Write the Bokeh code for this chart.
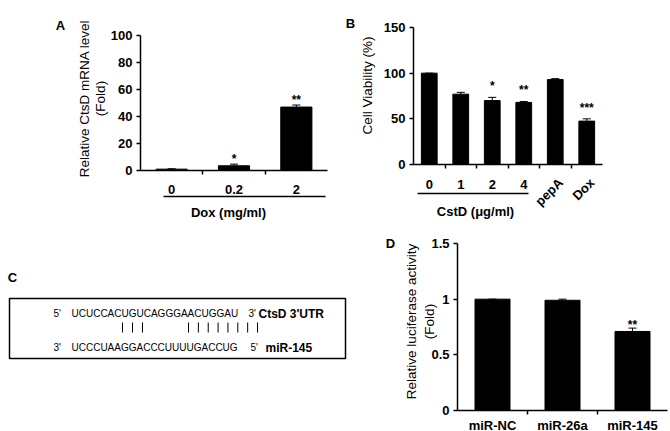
import numpy as np
from bokeh.plotting import figure
from bokeh.models import Range1d, FixedTicker, Whisker, TeeHead, ColumnDataSource
from bokeh.layouts import row, column
from bokeh.embed import file_html
from bokeh.resources import INLINE
from bokeh.core.properties import value

# ---------------- data ----------------
# Panel A
a_cats = ["0", "0.2", "2"]
a_vals = [1.0, 3.5, 47.0]
a_errs = [0.3, 1.2, 1.5]
a_sig = ["", "*", "**"]
a_yticks = [0, 20, 40, 60, 80, 100]
a_ymax = 100
a_ylabel = ["Relative CtsD mRNA level", "(Fold)"]
a_group = "Dox (mg/ml)"

# Panel B
b_cats = ["0", "1", "2", "4", "pepA", "Dox"]
b_vals = [100.0, 77.0, 70.0, 68.0, 93.0, 47.5]
b_errs = [0.0, 2.0, 3.5, 1.0, 1.0, 2.5]
b_sig = ["", "", "*", "**", "", "***"]
b_yticks = [0, 50, 100, 150]
b_ymax = 150
b_ylabel = ["Cell Viability (%)"]
b_group = "CstD (\u03bcg/ml)"
b_rotated = ["pepA", "Dox"]

# Panel C
c_utr = "UCUCCACUGUCAGGGAACUGGAU"
c_mir = "UCCCUAAGGACCCUUUUGACCUG"
c_utr_name = "CtsD 3'UTR"
c_mir_name = "miR-145"

# Panel D
d_cats = ["miR-NC", "miR-26a", "miR-145"]
d_vals = [1.0, 0.99, 0.71]
d_errs = [0.0, 0.01, 0.03]
d_sig = ["", "", "**"]
d_yticks = [0, 0.5, 1, 1.5]
d_ymax = 1.5
d_ylabel = ["Relative luciferase activity", "(Fold)"]

FONT = "Liberation Sans"
TOP_H = 223
BOT_H = 431 - TOP_H


def make_panel(cats, vals, errs, sig, yticks, ymax, W, H, ox, oy, ux, uy,
               star_offset, hide=(), xlabel_standoff=10):
    """Frame covers the whole figure; axes are pinned at the data origin."""
    n = len(cats)
    xr = Range1d(-ox / ux, (W - ox) / ux)
    yr = Range1d(-(H - oy) / uy, oy / uy)
    p = figure(width=W, height=H, x_range=xr, y_range=yr, min_border=0,
               output_backend="svg", toolbar_location=None)
    p.outline_line_color = None
    p.grid.visible = False
    p.background_fill_color = "white"
    p.border_fill_color = "white"

    xs = np.arange(n) + 0.5
    ups = np.array(vals) + np.array(errs)
    src = ColumnDataSource(dict(x=xs, top=vals, up=ups, sig=sig))
    p.vbar(x="x", top="top", bottom=0, width=0.5, fill_color="black",
           line_color="black", source=src)
    p.add_layout(Whisker(base="x", lower="top", upper="up", source=src,
                         lower_head=None,
                         upper_head=TeeHead(size=8, line_color="black", line_width=1),
                         line_color="black", line_width=1))
    p.text(x="x", y="up", text="sig", source=src, text_align="center",
           text_baseline="alphabetic", y_offset=star_offset,
           text_font=value(FONT), text_font_style="bold",
           text_font_size="12px", text_color="black")

    ya = p.yaxis[0]
    ya.fixed_location = 0
    ya.bounds = (0, ymax)
    ya.ticker = FixedTicker(ticks=yticks)
    ya.major_tick_out = 4
    ya.major_tick_in = 0
    ya.minor_tick_out = 0
    ya.minor_tick_in = 0
    ya.axis_line_width = 1.5
    ya.axis_line_color = "black"
    ya.major_tick_line_width = 1.5
    ya.major_tick_line_color = "black"
    ya.major_label_text_font = FONT
    ya.major_label_text_font_style = "bold"
    ya.major_label_text_font_size = "13px"
    ya.major_label_text_color = "black"
    ya.major_label_standoff = 4

    xa = p.xaxis[0]
    xa.fixed_location = 0
    xa.bounds = (0, n)
    xa.ticker = FixedTicker(ticks=[float(v) for v in xs],
                            minor_ticks=[float(v) for v in range(1, n)])
    xa.major_label_overrides = {float(x): ("" if c in hide else c)
                                for x, c in zip(xs, cats)}
    xa.major_tick_out = 0
    xa.major_tick_in = 0
    xa.minor_tick_out = 4
    xa.minor_tick_in = 0
    xa.minor_tick_line_width = 1.5
    xa.minor_tick_line_color = "black"
    xa.axis_line_width = 1.5
    xa.axis_line_color = "black"
    xa.major_label_text_font = FONT
    xa.major_label_text_font_style = "bold"
    xa.major_label_text_font_size = "13px"
    xa.major_label_text_color = "black"
    xa.major_label_standoff = xlabel_standoff

    def X(px):
        return (px - ox) / ux

    def Y(py):
        return (oy - py) / uy

    return p, X, Y


def put_text(p, text, x, y, size="13px", bold=False, angle=0.0,
             align="center", baseline="middle"):
    p.text(x=[x], y=[y], text=[text], angle=angle, text_align=align,
           text_baseline=baseline, text_font=value(FONT),
           text_font_size=size, text_font_style="bold" if bold else "normal",
           text_color="black")


def ylabel_lines(p, X, Y, lines, xs_px, y_px):
    for line, xp in zip(lines, xs_px):
        put_text(p, line, X(xp), Y(y_px), size="13.5px", angle=np.pi / 2)


# ---------------- panel A ----------------
pa, AX, AY = make_panel(a_cats, a_vals, a_errs, a_sig, a_yticks, a_ymax,
                        W=340, H=TOP_H, ox=140, oy=170, ux=187 / 3,
                        uy=135 / a_ymax, star_offset=-5, xlabel_standoff=10)
put_text(pa, "A", AX(60), AY(25), bold=True)
ylabel_lines(pa, AX, AY, a_ylabel, [84, 100], 98)
pa.segment(x0=[AX(163)], y0=[AY(196)], x1=[AX(325)], y1=[AY(196)],
           line_color="black", line_width=1.5)
put_text(pa, a_group, AX(228), AY(212), bold=True)

# ---------------- panel B ----------------
pb, BX, BY = make_panel(b_cats, b_vals, b_errs, b_sig, b_yticks, b_ymax,
                        W=330, H=TOP_H, ox=73, oy=164, ux=31.5,
                        uy=137 / b_ymax, star_offset=-11, hide=b_rotated,
                        xlabel_standoff=11)
put_text(pb, "B", BX(350 - 340), BY(23), bold=True)
ylabel_lines(pb, BX, BY, b_ylabel, [367 - 340], 85)
for i, c in enumerate(b_cats):
    if c in b_rotated:
        put_text(pb, c, i + 0.67, BY(180), bold=True, angle=np.pi / 4,
                 align="right")
pb.segment(x0=[BX(417 - 340)], y0=[BY(193)], x1=[BX(528 - 340)], y1=[BY(193)],
           line_color="black", line_width=1.5)
put_text(pb, b_group, BX(475 - 340), BY(211), bold=True)

# ---------------- panel C ----------------
pc = figure(width=380, height=BOT_H, x_range=Range1d(0, 380),
            y_range=Range1d(BOT_H, 0), output_backend="svg",
            toolbar_location=None, min_border=0)
pc.axis.visible = False
pc.grid.visible = False
pc.outline_line_color = None
pc.quad(left=9, right=345, top=75, bottom=135, fill_color=None,
        line_color="black", line_width=1.5)
for t, x, y in [("5'", 53, 90), (c_utr, 71, 90), ("3'", 248, 90),
                ("3'", 53, 124), (c_mir, 71, 124), ("5'", 250, 124)]:
    put_text(pc, t, x, y, size="10px", align="left")
put_text(pc, c_utr_name, 258, 90, size="12px", bold=True, align="left")
put_text(pc, c_mir_name, 265, 124, size="12px", bold=True, align="left")
pair_x = list(122 + 10 * np.arange(3)) + list(188 + 9.86 * np.arange(8))
pc.segment(x0=pair_x, y0=[99] * len(pair_x), x1=pair_x, y1=[109] * len(pair_x),
           line_color="black", line_width=1)
put_text(pc, "C", 12, 54, bold=True)

# ---------------- panel D ----------------
pd_, DX, DY = make_panel(d_cats, d_vals, d_errs, d_sig, d_yticks, d_ymax,
                         W=290, H=BOT_H, ox=77, oy=187, ux=70,
                         uy=167 / d_ymax, star_offset=-3, xlabel_standoff=3)
put_text(pd_, "D", DX(10), DY(20), bold=True)
ylabel_lines(pd_, DX, DY, d_ylabel, [31, 49], 98)

layout = column(row(pa, pb), row(pc, pd_))

with open("out.html", "w") as f:
    f.write(file_html(layout, INLINE))
